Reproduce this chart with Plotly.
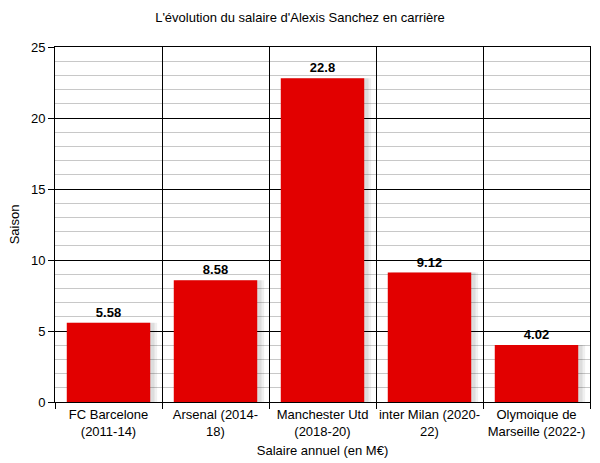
import plotly.graph_objects as go

categories = ["FC Barcelone<br>(2011-14)", "Arsenal (2014-<br>18)", "Manchester Utd<br>(2018-20)",
              "inter Milan (2020-<br>22)", "Olymoique de<br>Marseille (2022-)"]
salaries = [5.58, 8.58, 22.8, 9.12, 4.02]
labels = ["5.58", "8.58", "22.8", "9.12", "4.02"]

font_family = "Liberation Sans, Arial, sans-serif"

fig = go.Figure()
# soft shadow layers
for off, w, a in [(0.045, 0.80, 0.06), (0.03, 0.79, 0.08)]:
    fig.add_trace(go.Bar(x=categories, y=salaries, width=w, offset=-0.39 + off,
                         marker=dict(color=f"rgba(0,0,0,{a})", line=dict(width=0)),
                         hoverinfo="skip", showlegend=False))
fig.add_trace(go.Bar(x=categories, y=salaries, width=0.78, offset=-0.39,
                     marker=dict(color="#e20000", line=dict(width=0)),
                     text=labels, textposition="outside",
                     textfont=dict(family=font_family, size=13, color="#000000"),
                     texttemplate="<b>%{text}</b>", cliponaxis=False,
                     showlegend=False))

fig.update_layout(
    width=600, height=463,
    margin=dict(l=55, r=10, t=47, b=61),
    paper_bgcolor="white", plot_bgcolor="white",
    barmode="overlay",
    font=dict(family=font_family, size=13, color="#000000"),
    title=dict(text="L'évolution du salaire d'Alexis Sanchez en carrière",
               x=0.5, xanchor="center", y=0.962, yanchor="middle",
               font=dict(family=font_family, size=13, color="#000000")),
    xaxis=dict(
        tickson="boundaries", ticks="outside", ticklen=6, tickcolor="#000000",
        tickangle=0, automargin=False,
        showgrid=True, gridcolor="#000000", gridwidth=1,
        showline=True, linecolor="#000000", mirror=True,
        tickfont=dict(size=13), range=[-0.5, 4.5],
        title=dict(text="Salaire annuel (en M€)", font=dict(size=13), standoff=8),
    ),
    yaxis=dict(
        range=[0, 25], dtick=5, ticks="outside", ticklen=6, tickcolor="#000000",
        showgrid=True, gridcolor="#000000", gridwidth=1,
        minor=dict(dtick=1, showgrid=True, gridcolor="#c8c8c8", gridwidth=1, ticks=""),
        showline=True, linecolor="#000000", mirror=True,
        zeroline=False, tickfont=dict(size=13), automargin=False,
        title=dict(text="Saison", font=dict(size=13), standoff=8),
    ),
)

fig.write_html("out.html", config={"displayModeBar": False},
               post_script="document.body.style.margin='0';document.body.style.overflow='hidden';")
